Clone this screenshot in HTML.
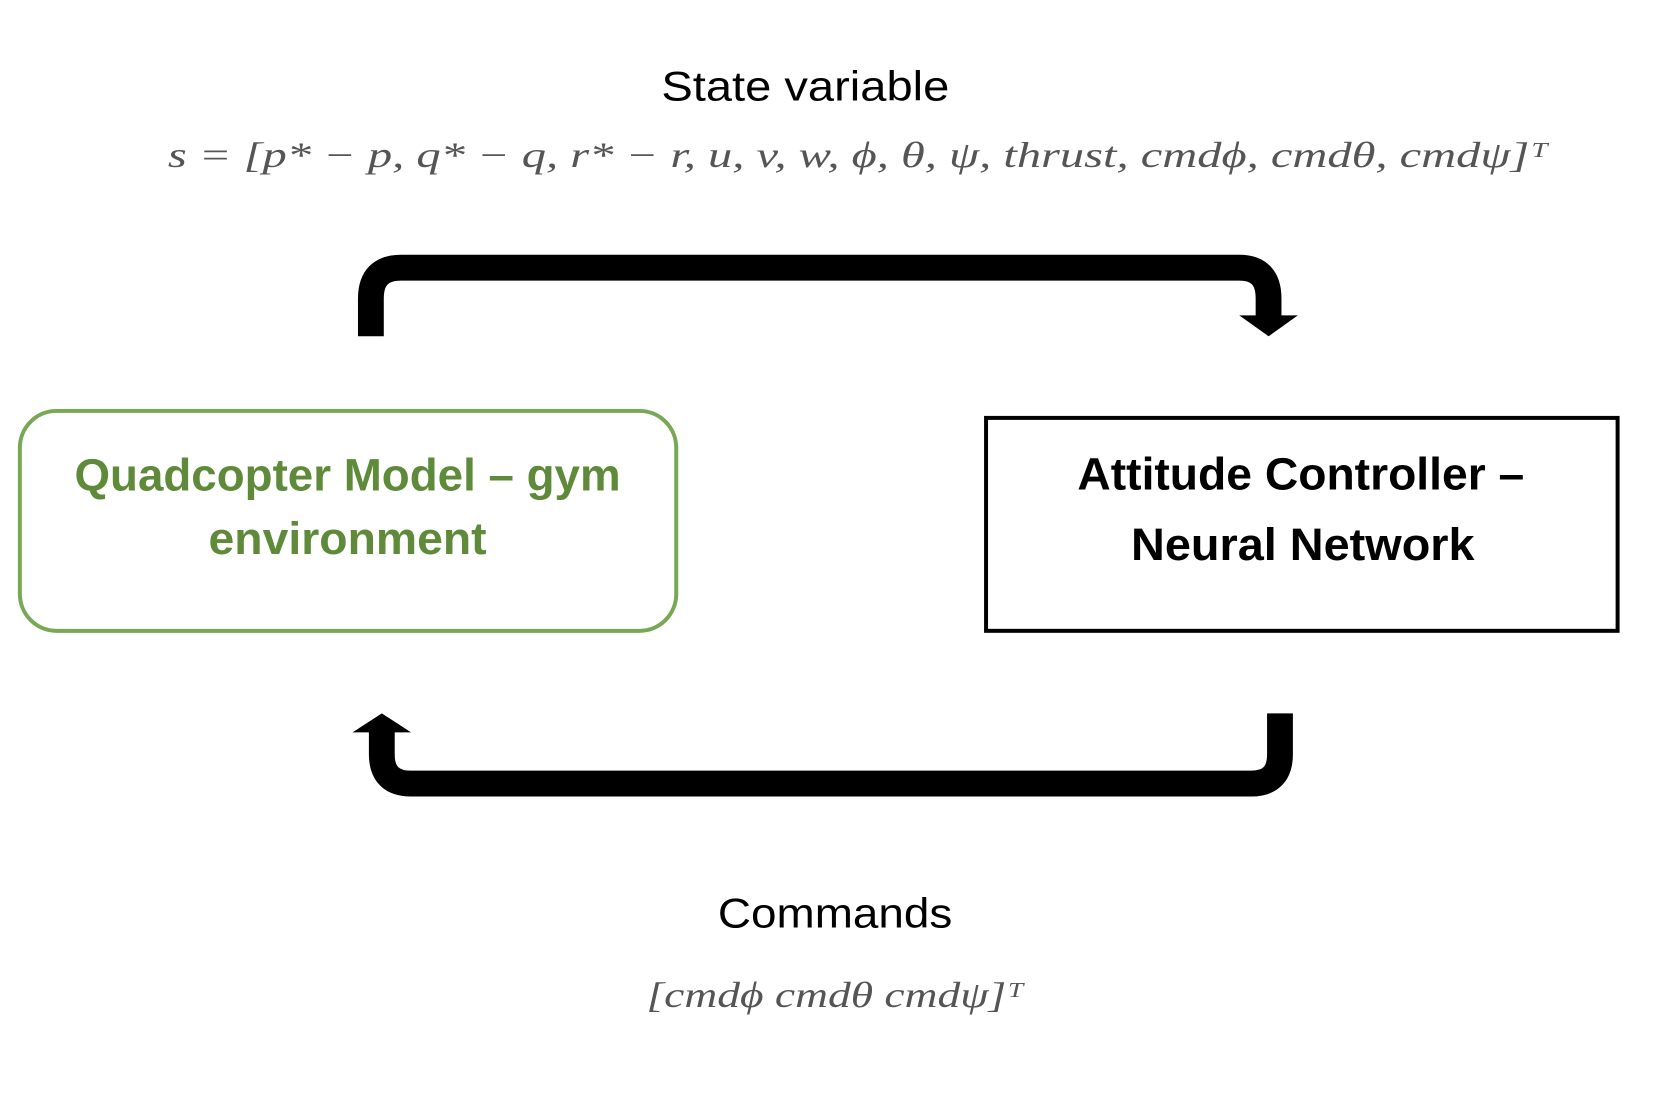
<!DOCTYPE html>
<html><head><meta charset="utf-8"><style>
html,body{margin:0;padding:0;background:#fff;}
svg{display:block;}
</style></head><body>
<svg width="1660" height="1106" viewBox="0 0 1660 1106" xmlns="http://www.w3.org/2000/svg">
<rect width="1660" height="1106" fill="#fff"/>
<g transform="scale(0.993,0.995)">
<text x="811" y="101" font-family="Liberation Sans, sans-serif" font-size="42" text-anchor="middle" fill="#000" textLength="290" lengthAdjust="spacingAndGlyphs">State variable</text>
<text x="169" y="168" font-family="Liberation Serif, serif" font-style="italic" font-size="36" fill="#555" textLength="1390" lengthAdjust="spacingAndGlyphs">s = [p* − p,  q* − q,  r* − r,  u,  v,  w,  ϕ,  θ,  ψ,  thrust,  cmdϕ,  cmdθ,  cmdψ]ᵀ</text>

<path d="M373.5 338 V300 Q373.5 269 404 269 H1248 Q1277.5 269 1277.5 300 V318" fill="none" stroke="#000" stroke-width="26"/>
<polygon points="1248,317 1307,317 1277.5,338" fill="#000"/>

<rect x="20" y="413" width="661" height="221" rx="37" ry="37" fill="#fff" stroke="#78a854" stroke-width="4"/>
<text x="350" y="493" font-family="Liberation Sans, sans-serif" font-weight="bold" font-size="46" text-anchor="middle" fill="#5f8a3a" textLength="550" lengthAdjust="spacingAndGlyphs">Quadcopter Model – gym</text>
<text x="350" y="557" font-family="Liberation Sans, sans-serif" font-weight="bold" font-size="46" text-anchor="middle" fill="#5f8a3a" textLength="280" lengthAdjust="spacingAndGlyphs">environment</text>

<rect x="993" y="420" width="636" height="214" fill="#fff" stroke="#000" stroke-width="4"/>
<text x="1310" y="492" font-family="Liberation Sans, sans-serif" font-weight="bold" font-size="46" text-anchor="middle" fill="#000" textLength="450" lengthAdjust="spacingAndGlyphs">Attitude Controller –</text>
<text x="1312" y="563" font-family="Liberation Sans, sans-serif" font-weight="bold" font-size="46" text-anchor="middle" fill="#000" textLength="346" lengthAdjust="spacingAndGlyphs">Neural Network</text>

<path d="M1289 717 V758 Q1289 787.5 1260 787.5 H414 Q384.5 787.5 384.5 758 V735" fill="none" stroke="#000" stroke-width="26"/>
<polygon points="355,736 414,736 384.5,717" fill="#000"/>

<text x="841" y="932" font-family="Liberation Sans, sans-serif" font-size="42" text-anchor="middle" fill="#000" textLength="236" lengthAdjust="spacingAndGlyphs">Commands</text>
<text x="841" y="1012" font-family="Liberation Serif, serif" font-style="italic" font-size="36" text-anchor="middle" fill="#555" textLength="380" lengthAdjust="spacingAndGlyphs">[cmdϕ   cmdθ   cmdψ]ᵀ</text>
</g>
</svg>
</body></html>
